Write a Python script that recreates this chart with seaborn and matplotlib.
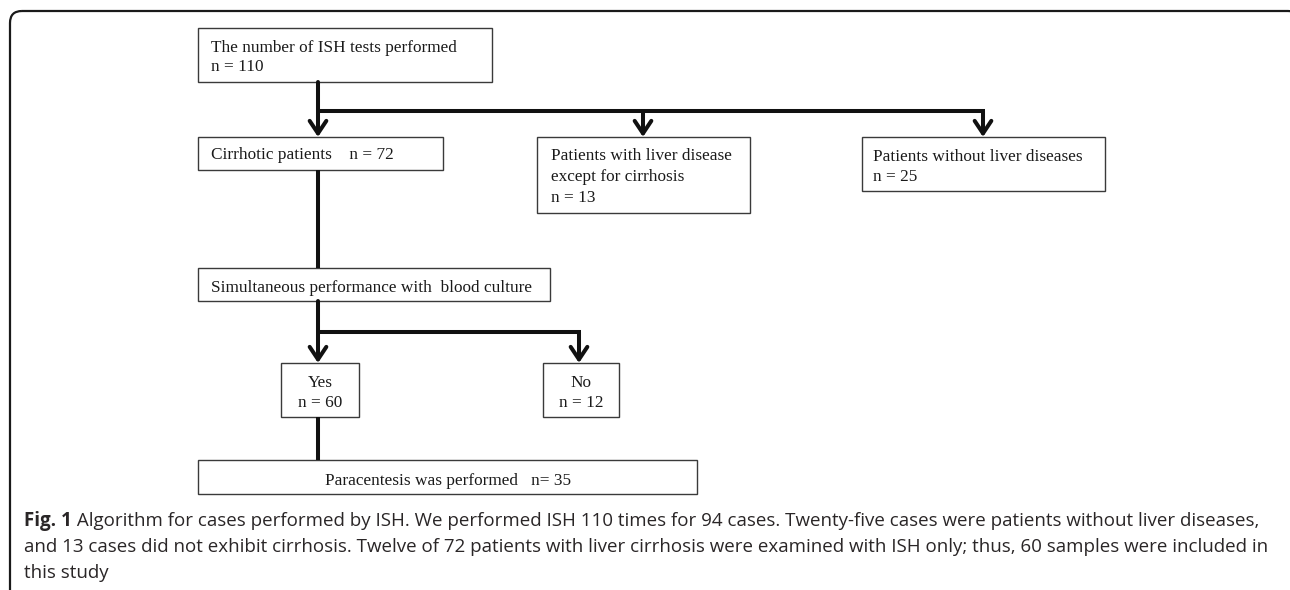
import matplotlib.pyplot as plt
import seaborn as sns
from matplotlib.patches import Rectangle, FancyBboxPatch

# box labels and counts of the flow chart
box_names = ['The number of ISH tests performed', 'Cirrhotic patients',
             'Patients with liver disease\nexcept for cirrhosis',
             'Patients without liver diseases',
             'Simultaneous performance with  blood culture',
             'Yes', 'No', 'Paracentesis was performed']
box_counts = [110, 72, 13, 25, None, 60, 12, 35]

caption_bold = 'Fig. 1'
caption_lines = [
    ' Algorithm for cases performed by ISH. We performed ISH 110 times for 94 cases. Twenty-five cases were patients without liver diseases,',
    'and 13 cases did not exhibit cirrhosis. Twelve of 72 patients with liver cirrhosis were examined with ISH only; thus, 60 samples were included in',
    'this study',
]

sns.set_theme(style='white')
plt.rcParams['font.family'] = ['Liberation Serif', 'DejaVu Serif']

fig = plt.figure(figsize=(12.9, 5.9), dpi=100)
ax = fig.add_axes([0, 0, 1, 1])
ax.set_xlim(0, 1290)
ax.set_ylim(590, 0)
ax.axis('off')

# outer frame with rounded corners (cut by figure edges)
ax.add_patch(FancyBboxPatch((10, 11), 1290, 640, boxstyle='round,pad=0,rounding_size=12',
                            fill=False, ec='#1a1a1a', lw=1.6, clip_on=True))

# (x0, y0, x1, y1) of each box
rects = [(198, 28, 492, 82), (198, 137, 443, 170), (537, 137, 750, 213),
         (862, 137, 1105, 191), (198, 268, 550, 301), (281, 363, 359, 417),
         (543, 363, 619, 417), (198, 460, 697, 494)]
for x0, y0, x1, y1 in rects:
    ax.add_patch(Rectangle((x0, y0), x1 - x0, y1 - y0, fill=False, ec='#3a3a3a', lw=1.0))

fs = 12.4
txt = dict(fontsize=fs, color='#1a1a1a', va='baseline')
ax.text(211, 52, box_names[0], **txt)
ax.text(211, 71, f'n = {box_counts[0]}', **txt)
ax.text(211, 159, f'{box_names[1]}    n = {box_counts[1]}', **txt)
l1, l2 = box_names[2].split('\n')
ax.text(551, 160, l1, **txt)
ax.text(551, 181, l2, **txt)
ax.text(551, 202, f'n = {box_counts[2]}', **txt)
ax.text(873, 161, box_names[3], **txt)
ax.text(873, 181, f'n = {box_counts[3]}', **txt)
ax.text(211, 292, box_names[4], **txt)
ax.text(320, 387, box_names[5], ha='center', **txt)
ax.text(320, 407, f'n = {box_counts[5]}', ha='center', **txt)
ax.text(581, 387, box_names[6], ha='center', **txt)
ax.text(581, 407, f'n = {box_counts[6]}', ha='center', **txt)
ax.text(325, 485, f'{box_names[7]}   n= {box_counts[7]}', **txt)

# connectors
lw = 2.9
line = dict(color='#111111', lw=lw, solid_capstyle='butt')
arrow = dict(arrowstyle='->,head_length=0.45,head_width=0.3', color='#111111', lw=lw,
             shrinkA=0, shrinkB=0, mutation_scale=20)

def arr(x, ya, yb):
    ax.annotate('', xy=(x, yb), xytext=(x, ya), arrowprops=arrow)

arr(318, 82, 137)
ax.plot([316.5, 984.5], [111, 111], **line)
arr(643, 111, 137)
arr(983, 111, 137)
ax.plot([318, 318], [170, 268], **line)
arr(318, 301, 363)
ax.plot([316.5, 580.5], [332, 332], **line)
arr(579, 332, 363)
ax.plot([318, 318], [417, 460], **line)

# caption
cap = dict(fontsize=13.5, color='#2a2627', va='baseline', family=['Open Sans', 'DejaVu Sans'])
t = ax.text(24, 526, caption_bold, fontweight='bold', **cap)
fig.canvas.draw()
bb = t.get_window_extent(fig.canvas.get_renderer())
x_end = ax.transData.inverted().transform((bb.x1, bb.y0))[0]
ax.text(x_end, 526, caption_lines[0], **cap)
ax.text(24, 552, caption_lines[1], **cap)
ax.text(24, 578, caption_lines[2], **cap)

fig.savefig('out.png', dpi=100)
